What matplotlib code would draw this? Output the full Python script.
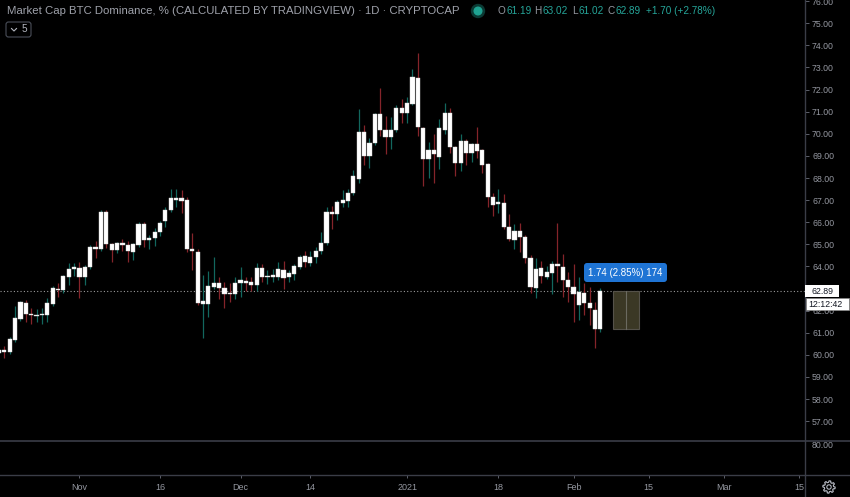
import matplotlib
matplotlib.use('Agg')
import matplotlib.pyplot as plt
import matplotlib.dates as mdates
from matplotlib.patches import Rectangle, FancyBboxPatch, Circle, Polygon
import numpy as np
import pandas as pd

plt.rcParams['font.family'] = ['Liberation Sans', 'DejaVu Sans']

# daily candles, BTC dominance %, 2020-10-17 .. 2021-02-06
dates = pd.date_range('2020-10-17', '2021-02-06', freq='D')
opens = [60.10, 60.21, 60.12, 60.67, 61.62, 62.34, 61.84, 61.75, 61.78, 61.80,
         62.29, 62.98, 62.93, 63.52, 63.88, 63.92, 63.52, 63.97, 64.87, 64.78,
         66.46, 65.01, 64.74, 65.05, 64.96, 64.65, 64.96, 65.91, 65.19, 65.28,
         65.55, 66.05, 66.55, 67.00, 67.09, 67.00, 64.78, 64.65, 62.29, 62.29,
         63.06, 63.25, 63.02, 62.79, 62.75, 63.25, 63.34, 63.29, 63.15, 63.92,
         63.52, 63.52, 63.52, 63.83, 63.52, 63.65, 63.97, 64.47, 64.15, 64.42,
         64.69, 65.05, 66.46, 66.37, 66.87, 66.95, 67.32, 67.95, 70.08, 68.99,
         69.58, 70.89, 70.17, 69.85, 70.17, 71.16, 70.94, 71.34, 72.52, 70.26,
         68.86, 69.26, 68.95, 70.17, 70.94, 69.40, 68.67, 69.67, 69.13, 69.53,
         69.26, 68.63, 67.14, 66.82, 66.87, 65.78, 65.19, 65.60, 65.33, 64.38,
         63.02, 63.92, 63.52, 63.70, 64.10, 63.97, 63.38, 63.06, 62.25, 62.79,
         62.34, 62.02, 61.19]
highs = [60.35, 60.39, 60.80, 62.20, 62.45, 62.47, 62.11, 62.07, 62.11, 62.57,
         63.10, 63.25, 63.62, 64.15, 64.15, 64.19, 64.05, 64.95, 65.14, 66.55,
         66.55, 65.05, 65.10, 65.24, 65.14, 65.05, 66.00, 66.00, 65.42, 65.73,
         66.05, 66.68, 67.50, 67.50, 67.45, 67.14, 65.51, 64.78, 63.61, 63.79,
         64.42, 63.52, 63.29, 63.25, 63.52, 63.97, 63.52, 63.52, 64.15, 64.10,
         63.83, 63.88, 64.19, 64.24, 63.83, 64.10, 64.50, 64.69, 64.69, 64.87,
         65.55, 66.68, 66.73, 67.00, 67.45, 67.50, 68.36, 71.12, 70.39, 69.81,
         70.95, 72.07, 70.80, 70.76, 71.30, 71.57, 71.66, 72.93, 73.65, 70.30,
         69.62, 69.99, 70.67, 71.39, 71.16, 69.45, 69.99, 69.75, 69.60, 70.30,
         69.30, 68.70, 67.32, 67.50, 67.27, 66.37, 65.91, 65.96, 65.40, 64.51,
         64.38, 64.24, 64.01, 64.24, 65.96, 64.56, 63.74, 64.10, 63.52, 63.25,
         63.06, 62.38, 63.02]
lows = [60.00, 59.85, 60.05, 60.60, 61.55, 61.48, 61.39, 61.48, 61.39, 61.48,
        62.22, 62.61, 62.79, 63.15, 63.56, 62.57, 63.15, 63.90, 64.38, 64.70,
        64.83, 64.19, 64.60, 64.69, 64.19, 64.28, 64.90, 64.87, 64.78, 64.92,
        65.37, 65.78, 66.45, 66.68, 66.41, 64.65, 63.83, 62.25, 60.76, 61.71,
        63.00, 62.52, 62.11, 62.38, 62.52, 62.61, 62.88, 62.88, 62.88, 63.29,
        63.20, 63.29, 63.38, 62.97, 63.29, 63.38, 63.90, 63.97, 64.01, 64.15,
        64.56, 64.98, 65.69, 66.10, 66.68, 66.68, 67.25, 67.77, 68.58, 68.45,
        69.50, 69.90, 69.08, 69.31, 70.10, 70.48, 70.48, 71.30, 69.90, 67.63,
        67.99, 67.77, 68.40, 69.99, 69.13, 68.09, 68.31, 68.58, 68.72, 68.90,
        68.22, 66.68, 66.28, 66.41, 65.70, 65.15, 64.78, 64.65, 64.15, 62.79,
        62.57, 63.25, 63.45, 62.75, 63.29, 62.61, 62.38, 61.48, 61.57, 61.80,
        61.34, 60.30, 61.02]
closes = [60.21, 60.12, 60.71, 61.66, 62.38, 61.84, 61.80, 61.80, 61.84, 62.34,
          63.02, 62.93, 63.56, 63.88, 63.97, 63.52, 63.97, 64.87, 64.78, 66.46,
          65.01, 64.74, 65.05, 64.96, 64.69, 65.01, 65.91, 65.19, 65.28, 65.55,
          65.96, 66.55, 67.09, 67.09, 66.95, 64.78, 64.69, 62.34, 62.43, 63.11,
          63.25, 63.02, 62.75, 62.75, 63.25, 63.38, 63.25, 63.15, 63.92, 63.52,
          63.56, 63.61, 63.88, 63.47, 63.70, 64.01, 64.42, 64.19, 64.42, 64.69,
          65.05, 66.46, 66.37, 66.91, 67.00, 67.32, 68.09, 70.08, 68.99, 69.58,
          70.89, 70.17, 69.85, 70.17, 71.16, 70.94, 71.39, 72.57, 70.30, 68.86,
          69.26, 69.08, 70.26, 70.94, 69.40, 68.67, 69.67, 69.13, 69.53, 69.22,
          68.58, 67.14, 66.77, 66.91, 65.78, 65.24, 65.60, 65.33, 64.38, 63.06,
          63.88, 63.56, 63.74, 64.10, 64.01, 63.38, 63.06, 62.75, 62.84, 62.34,
          62.11, 61.19, 62.89]

last_price = 62.89
measure_low = 61.15
measure_text = '1.74 (2.85%) 174'
price_ticks = list(range(57, 77))
time_ticks = ['2020-11-01', '2020-11-16', '2020-12-01', '2020-12-14', '2021-01-01',
              '2021-01-18', '2021-02-01', '2021-02-15', '2021-03-01', '2021-03-15']
time_labels = ['Nov', '16', 'Dec', '14', '2021', '18', 'Feb', '15', 'Mar', '15']
ohlc_keys = ['O', 'H', 'L', 'C']
ohlc_vals = ['61.19', '63.02', '61.02', '62.89']
change_text = '+1.70 (+2.78%)'

W, H = 850, 497
BG = '#000000'
LINE = '#3a3d47'
TXT = '#9598a1'
UP_WICK = '#12675e'
DN_WICK = '#85242a'

fig = plt.figure(figsize=(W / 100, H / 100), dpi=100, facecolor=BG)

# main price pane
ax = fig.add_axes([0, 1 - 441 / H, 805 / W, 441 / H], facecolor=BG)
x = mdates.date2num(dates)
base = x[1]
xlim = (base - 0.8, base + 149.1)

o = np.array(opens)
c = np.array(closes)
up = c >= o
ax.vlines(x, lows, highs, colors=np.where(up, UP_WICK, DN_WICK), lw=0.9, zorder=2)
ax.bar(x, np.maximum(np.abs(c - o), 0.06), bottom=np.minimum(o, c), width=0.78,
       color='white', edgecolor='#d8d8d8', linewidth=0.3, zorder=3)

ax.axhline(last_price, color='#9a9a9a', lw=0.8, linestyle=(0, (1, 2)), zorder=1)

# measure tool
ax.add_patch(Rectangle((base + 113.35, measure_low), 4.85, last_price - measure_low,
                       facecolor='#3b3825', edgecolor='#55524a', lw=0.8, zorder=4))
ax.plot([base + 115.8, base + 115.8], [measure_low, last_price], color='#6b6a60', lw=0.8, zorder=5)

ax.set_xlim(xlim)
ax.set_ylim(56.10, 76.054)
ax.yaxis.tick_right()
ax.set_yticks(price_ticks)
ax.set_yticklabels([f'{v:.2f}' for v in price_ticks])
ax.tick_params(axis='y', length=2.9, width=0.7, color='#5d606b', labelcolor=TXT,
               labelsize=6.3, pad=2.2)
ax.set_xticks([])
for s in ax.spines.values():
    s.set_visible(False)

# empty lower pane + time axis
ax2 = fig.add_axes([0, 22 / H, 805 / W, 34 / H], facecolor=BG)
ax2.set_xlim(xlim)
ax2.set_yticks([])
ax2.set_xticks(mdates.date2num(pd.to_datetime(time_ticks)))
ax2.set_xticklabels(time_labels)
ax2.tick_params(axis='x', length=2.5, width=0.7, color='#5d606b', labelcolor=TXT,
                labelsize=6.5, pad=3.2)
for s in ax2.spines.values():
    s.set_visible(False)

# overlay in pixel coordinates
ov = fig.add_axes([0, 0, 1, 1])
ov.set_xlim(0, W)
ov.set_ylim(H, 0)
ov.axis('off')
ov.patch.set_alpha(0)

ov.plot([0, W], [441, 441], color=LINE, lw=1.2)
ov.plot([0, W], [475, 475], color=LINE, lw=1.0)
ov.plot([805, 805], [0, H], color=LINE, lw=1.0)
ov.text(812, 446, '80.00', color=TXT, fontsize=6.3, va='center', ha='left')

# title and OHLC
ov.text(7, 11, 'Market Cap BTC Dominance, % (CALCULATED BY TRADINGVIEW) · 1D · CRYPTOCAP',
        color='#9fa2ab', fontsize=8.2, va='center', ha='left')
ov.add_patch(Circle((478, 11), 6.5, color='#0b3a34'))
ov.add_patch(Circle((478, 11), 3.8, color='#1fa392'))
teal = '#26a69a'
for xx, k, v in zip([497.5, 534.5, 572, 607.5], ohlc_keys, ohlc_vals):
    lab = ov.text(xx, 11.5, k, color=TXT, fontsize=7.2, va='center', ha='left')
    ov.annotate(v, xy=(1, 0.5), xycoords=lab, xytext=(0.6, 0), textcoords='offset points',
                color=teal, fontsize=7.2, va='center', ha='left')
ov.text(646, 11.5, change_text, color=teal, fontsize=7.2, va='center', ha='left')

# collapse button
ov.add_patch(FancyBboxPatch((6, 22), 25, 15, boxstyle='round,pad=0,rounding_size=2.5',
                            facecolor='none', edgecolor='#4a4e59', lw=0.8))
ov.plot([11.5, 14, 16.5], [28.5, 31, 28.5], color='#b2b5be', lw=0.8)
ov.text(22, 29.5, '5', color='#b2b5be', fontsize=7.2, va='center', ha='left')

# measure label
ov.add_patch(FancyBboxPatch((584, 263), 83, 19, boxstyle='round,pad=0,rounding_size=3',
                            facecolor='#1f74d4', edgecolor='none'))
ov.text(625.5, 272.5, measure_text, color='white', fontsize=7, va='center', ha='center')

# last price labels
ov.add_patch(Rectangle((805.5, 285), 34, 12, facecolor='white', edgecolor='none', zorder=5))
ov.text(812, 291.2, f'{last_price:.2f}', color='#131722', fontsize=6.3, va='center', ha='left', zorder=6)
ov.add_patch(Rectangle((806, 298), 43, 12, facecolor='white', edgecolor='#888888', lw=0.5, zorder=5))
ov.text(808.5, 304.2, '12:12:42', color='#131722', fontsize=6.3, va='center', ha='left', zorder=6)

# settings gear
ang = np.linspace(0, 2 * np.pi, 65)[:-1]
rad = np.where((np.arange(64) // 4) % 2 == 0, 6.2, 4.6)
ov.add_patch(Polygon(np.column_stack([829 + rad * np.cos(ang), 487 + rad * np.sin(ang)]),
                     closed=True, facecolor='none', edgecolor='#b2b5be', lw=0.8))
ov.add_patch(Circle((829, 487), 2.2, facecolor='none', edgecolor='#b2b5be', lw=0.8))

fig.savefig('out.png', dpi=100, facecolor=BG)
